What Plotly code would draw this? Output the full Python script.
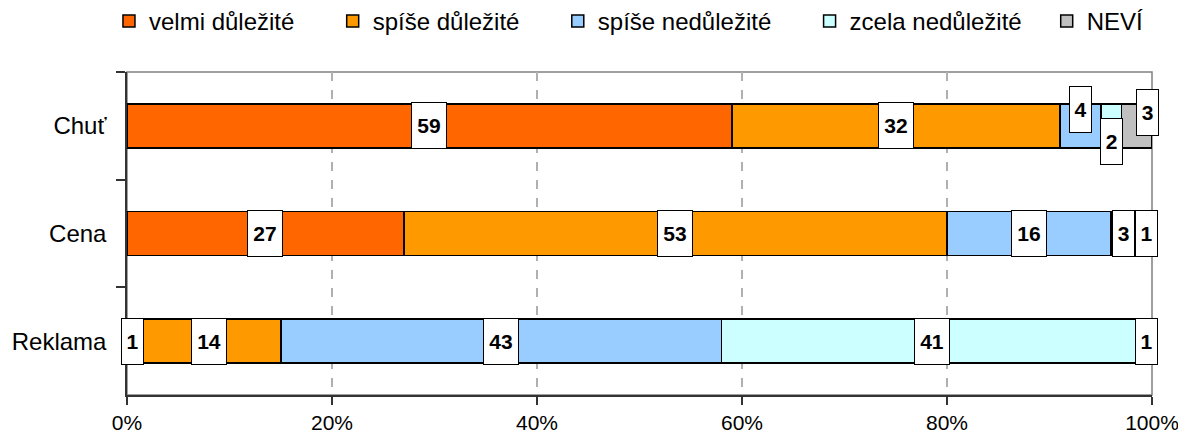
import plotly.graph_objects as go

categories = ["Chuť", "Cena", "Reklama"]
series_names = ["velmi důležité", "spíše důležité", "spíše nedůležité", "zcela nedůležité", "NEVÍ"]
velmi = [59, 27, 1]
spise_dul = [32, 53, 14]
spise_nedul = [4, 16, 43]
zcela_nedul = [2, 3, 41]
nevi = [3, 1, 1]
x_tick_vals = [0, 20, 40, 60, 80, 100]
x_tick_text = ["0%", "20%", "40%", "60%", "80%", "100%"]

series_values = [velmi, spise_dul, spise_nedul, zcela_nedul, nevi]
colors = ["#FF6600", "#FF9900", "#99CCFF", "#CCFFFF", "#C0C0C0"]

# manual label offsets (pixels) for crowded labels: (category index, series index) -> (xshift, yshift)
label_offsets = {(0, 2): (0, 16), (0, 3): (0, -16), (0, 4): (11, 13), (1, 3): (-3, 0)}
# legend spacing (non-breaking spaces appended after each legend entry)
legend_pad = [5, 5, 5, 3, 0]

FONT = "Liberation Sans, Arial, sans-serif"

fig = go.Figure()
for i, (name, vals, col) in enumerate(zip(series_names, series_values, colors)):
    fig.add_trace(go.Bar(
        y=categories, x=vals, name=name + "\u00a0" * legend_pad[i],
        orientation="h",
        marker=dict(color=col, line=dict(color="black", width=1.5)),
        hoverinfo="skip",
    ))

annotations = []
for ci, cat in enumerate(categories):
    cum = 0
    for si, vals in enumerate(series_values):
        v = vals[ci]
        center = cum + v / 2
        cum += v
        dx, dy = label_offsets.get((ci, si), (0, 0))
        txt = str(v)
        annotations.append(dict(
            x=center, y=cat, xref="x", yref="y", text="<b>%s</b>" % txt,
            showarrow=False, bgcolor="white", bordercolor="black", borderwidth=1,
            borderpad=0, width=21 if len(txt) == 1 else 34, height=45,
            font=dict(family=FONT, size=21, color="black"),
            xshift=dx, yshift=dy, align="center", valign="middle",
        ))

# page body has an 8px default margin; figure sized/margined to compensate
fig.update_layout(
    barmode="stack",
    bargap=0.59,
    width=1178, height=426,
    margin=dict(l=119, r=34, t=64, b=39, autoexpand=False),
    paper_bgcolor="white", plot_bgcolor="white",
    font=dict(family=FONT, size=21, color="black"),
    annotations=annotations,
    showlegend=True,
    legend=dict(
        orientation="h", x=-0.0176, xanchor="left", y=1.226, yanchor="top",
        font=dict(family=FONT, size=24, color="black"),
        traceorder="normal", itemclick=False, bgcolor="rgba(0,0,0,0)",
    ),
    shapes=[dict(type="rect", xref="paper", yref="paper", x0=0, x1=1, y0=0, y1=1,
                 line=dict(color="#808080", width=1.5), layer="below")],
)
fig.update_xaxes(
    range=[0, 100], tickvals=x_tick_vals, ticktext=x_tick_text,
    showgrid=True, gridcolor="#B0B0B0", griddash="dash", gridwidth=1.5,
    ticks="outside", ticklen=8, tickcolor="#333333", tickwidth=1.5,
    showline=True, linecolor="#333333", linewidth=1.5,
    zeroline=False, fixedrange=True, automargin=False, ticklabelstandoff=0,
    tickfont=dict(family=FONT, size=21, color="black"),
)
fig.update_yaxes(
    autorange="reversed", tickson="boundaries",
    ticks="outside", ticklen=9, tickcolor="#333333", tickwidth=1.5,
    showline=True, linecolor="#333333", linewidth=1.5,
    showgrid=False, fixedrange=True, ticklabelstandoff=14, automargin=False,
    tickfont=dict(family=FONT, size=24, color="black"),
)

fig.write_html("out.html")
